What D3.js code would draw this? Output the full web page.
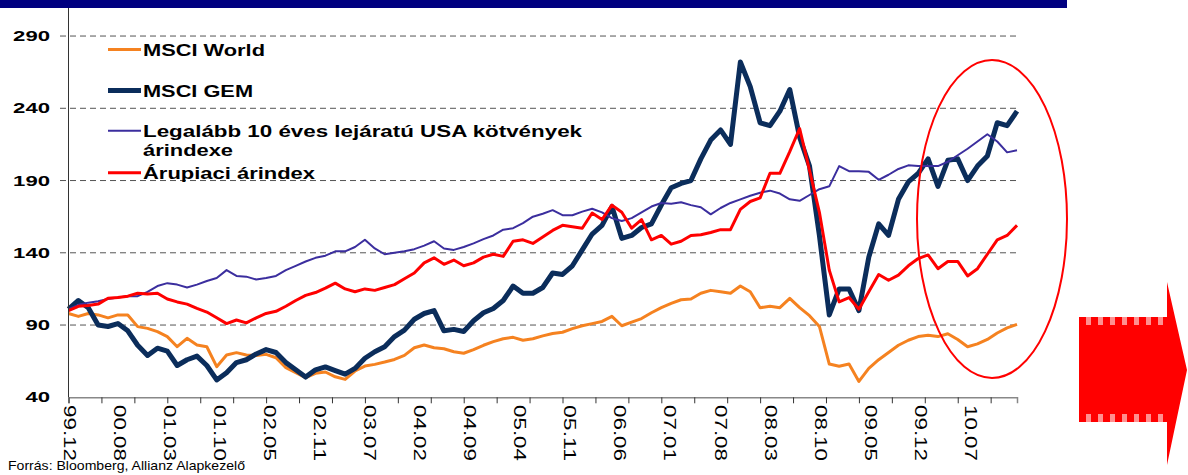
<!DOCTYPE html>
<html>
<head>
<meta charset="utf-8">
<script src="https://cdn.jsdelivr.net/npm/d3@7/dist/d3.min.js"></script>
<style>
  body { margin: 0; background: #fff; }
  svg { display: block; font-family: Arial, "Liberation Sans", sans-serif; }
</style>
</head>
<body>
<div id="chart"></div>
<script>

// ---- data (one value every 30 trading days, start = 1999.12) ----
var msciWorld = [98,96,98,97,95,97,97,88.9,87.7,85.4,82,75,80.8,76.2,75,61.2,69.3,70.9,69.3,
  69,69.7,67.4,60.5,57,53.6,56.6,57.5,54.2,52.4,58.2,61.6,62.8,64.4,66.2,69,74.3,76.2,74.3,73.6,
  71.5,70.5,73,76,78.5,80.5,81.5,79.5,80.5,82.5,84.2,85,87.5,89.5,91,92.5,96,89.5,92,94.5,
  98.5,102,105,107.5,108,112,114,113,112,117,113,102,103,102,108.5,102,96.5,89,63,61.5,
  63,51,60,66,71,76,79.5,82,83,82,84,80,75,77,80,84.5,88,90.5];

var msciGem = [101,107,102,90,89,91,86,76,69,74,72,62,66,68.5,62,52,57,64,66,
  70,73,71,64,59,54,59,61,58.5,56,60,67,71.5,75,82,86.5,94,98,100,86,
  87,85.5,93,98.5,101.5,107,117,112,112,116,126,125,131,142,153,159,172,150,152,157.5,
  160,173,185,188,190,205,218,225,215,272,255,230,228,238,253,220,200,152,97,115,
  115,100,137,160,152,177,189,195,205,186,204,205,190,200,207,230,228,238];

var usBond = [101,104,105.5,106.5,108,109,110,110,113,117,119,118,116,118,120.5,122.5,128,124,123.5,
  121.5,122.5,124,128,131,134,136.5,138,141,141,144,149,143,139,140,141,142.5,145,148,143,
  142,144,146.5,149.5,152,156,157,160.5,165,167,169.5,166,166,168.5,170.5,168,164,162,164,168,
  172,174.5,174,175,173,171.5,166.6,171,174.5,177,179.5,181.6,183,181,177,176,180,184,186,200,
  196.5,196.5,196,190.5,194,198,200.5,200,200,200,203,207.5,212,217,222,217,209.5,211];

var commodity = [100,103,103.5,104.5,108.5,109,110,112,111.5,112,108,106,104.5,101.5,99,95,91,93.5,91.5,
  95,98,99.5,103,107,110.5,112.5,115.5,119,115,113,115,114,116,118,122,126,133,136.5,132,
  135,131,133,137,139,137.5,148,149,146.5,151,155.5,159,158,157,167.5,163,173,168,157,163,
  149,152,146,148,152,152.5,154,156,156,170,175.5,178,195,195,210,226,197,168,128,106,
  109,101,113,125,121,124.5,131,136,138.5,129,134,134,124,129,139,149,152,159];

var xLabels = ["99.12","00.08","01.03","01.10","02.05","02.11","03.07","04.02","04.09","05.04",
  "05.11","06.06","07.01","07.08","08.03","08.10","09.05","09.12","10.07"];
var yTicks = [40, 90, 140, 190, 240, 290];

var seriesNames = ["MSCI World", "MSCI GEM",
  "Legalább 10 éves lejáratú USA kötvények|árindexe", "Árupiaci árindex"];
var source = "Forrás: Bloomberg, Allianz Alapkezelő";

// ---- frame ----
var svgWidth = 1188;
var svgHeight = 475;
var dayStep = 30;      // trading days between points
var labelStep = 152;   // trading days between date labels
var tickStep = 100;    // trading days between tick marks

var svg = d3.select("#chart")
  .append("svg")
  .attr("width", svgWidth)
  .attr("height", svgHeight);

var xScale = d3.scaleLinear().domain([0, 2880]).range([68.5, 1017]);
var yScale = d3.scaleLinear().domain([40, 309.4]).range([397.3, 8]);

// top band
svg.append("rect")
  .attr("x", 0).attr("y", 0)
  .attr("width", 1067).attr("height", 8)
  .attr("fill", "#000080");

// horizontal dashed gridlines
svg.append("g")
  .selectAll("line")
  .data(yTicks.slice(1))
  .enter()
  .append("line")
  .attr("x1", 60).attr("x2", 1017)
  .attr("y1", d => yScale(d)).attr("y2", d => yScale(d))
  .attr("stroke", "#555")
  .attr("stroke-width", 1)
  .attr("stroke-dasharray", "6,4");

// y tick labels
svg.append("g")
  .selectAll("text")
  .data(yTicks)
  .enter()
  .append("text")
  .attr("x", 50)
  .attr("y", d => yScale(d))
  .attr("dy", "0.36em")
  .attr("text-anchor", "end")
  .attr("font-size", "14px")
  .attr("font-weight", "bold")
  .attr("textLength", d => String(d).length * 12.3)
  .attr("lengthAdjust", "spacingAndGlyphs")
  .text(d => d);

// legend
var legendColors = ["#F58220", "#0B2D5B", "#3B2E9E", "#FF0000"];
var legendWidths = [3, 5, 2, 3];
var legendY = [49.5, 90.5, 130.7, 172.7];
var legendText = [[122], [110], [439, 90], [172]];

seriesNames.forEach(function(name, k) {
  svg.append("line")
    .attr("x1", 108).attr("x2", 141)
    .attr("y1", legendY[k]).attr("y2", legendY[k])
    .attr("stroke", legendColors[k])
    .attr("stroke-width", legendWidths[k]);
  name.split("|").forEach(function(part, j) {
    svg.append("text")
      .attr("x", 143)
      .attr("y", legendY[k] + 6 + j * 19.5)
      .attr("font-size", "16px")
      .attr("font-weight", "bold")
      .attr("textLength", legendText[k][j])
      .attr("lengthAdjust", "spacingAndGlyphs")
      .text(part);
  });
});

// series lines (drawn in series order)
var line = d3.line()
  .x((d, i) => xScale(i * dayStep))
  .y(d => yScale(d));

var allSeries = [msciWorld, msciGem, usBond, commodity];
allSeries.forEach(function(values, k) {
  svg.append("path")
    .datum(values)
    .attr("d", line)
    .attr("fill", "none")
    .attr("stroke", legendColors[k])
    .attr("stroke-width", legendWidths[k])
    .attr("stroke-linejoin", "round");
});

// y axis line
svg.append("line")
  .attr("x1", 68.5).attr("x2", 68.5)
  .attr("y1", 8).attr("y2", 397.3)
  .attr("stroke", "#333").attr("stroke-width", 1);

// x axis with tick marks every 100 trading days
var bottomAxis = d3.axisBottom(xScale)
  .tickValues(d3.range(0, 2801, tickStep))
  .tickSize(6)
  .tickFormat("");

var xAxis = svg.append("g")
  .attr("transform", "translate(0, 397.3)")
  .call(bottomAxis);
xAxis.select(".domain").attr("stroke", "#888").attr("stroke-width", 1.5);
xAxis.selectAll(".tick line").attr("stroke", "#333");

// date labels, rotated
svg.append("g")
  .selectAll("text")
  .data(xLabels)
  .enter()
  .append("text")
  .attr("transform", (d, i) => `translate(${xScale(i * labelStep) + 1}, 405) rotate(90)`)
  .attr("dy", "0.36em")
  .attr("font-size", "16px")
  .attr("textLength", 56)
  .attr("lengthAdjust", "spacingAndGlyphs")
  .text(d => d);

// source
svg.append("text")
  .attr("x", 8).attr("y", 470)
  .attr("font-size", "13px")
  .attr("textLength", 237)
  .attr("lengthAdjust", "spacingAndGlyphs")
  .text(source);

// highlight ellipse
svg.append("ellipse")
  .attr("cx", 992).attr("cy", 219)
  .attr("rx", 75).attr("ry", 159)
  .attr("fill", "none")
  .attr("stroke", "#FF0000")
  .attr("stroke-width", 2);

// big arrow on the right, with a striped fringe on the shaft
var arrow = [[1079,325],[1167,325],[1167,282],[1187,370],[1167,465],[1167,414],[1079,414]];
svg.append("polygon")
  .attr("points", arrow.map(p => p.join(",")).join(" "))
  .attr("fill", "#FF0000");
[321, 418].forEach(function(yy) {
  svg.append("line")
    .attr("x1", 1079).attr("x2", 1167)
    .attr("y1", yy).attr("y2", yy)
    .attr("stroke", "#FF9090")
    .attr("stroke-width", 8);
  svg.append("line")
    .attr("x1", 1079).attr("x2", 1167)
    .attr("y1", yy).attr("y2", yy)
    .attr("stroke", "#FF0000")
    .attr("stroke-width", 8)
    .attr("stroke-dasharray", "7,5");
});

</script>
</body>
</html>
